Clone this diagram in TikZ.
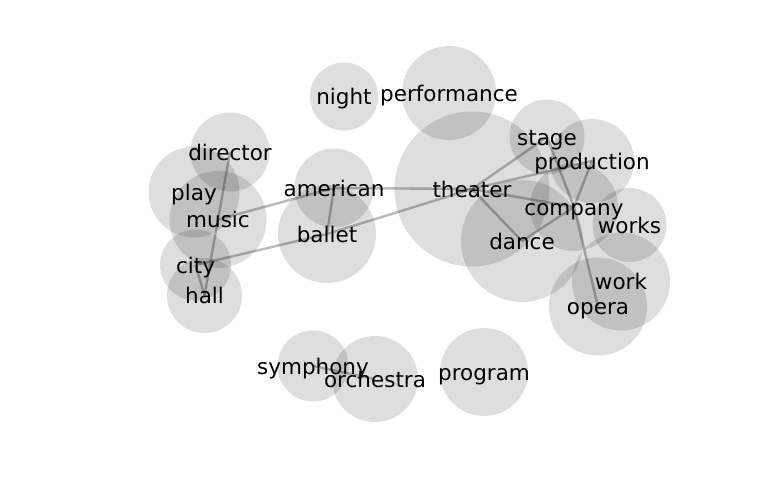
\documentclass[tikz,border=0pt]{standalone}
\usepackage{fontspec}
\setmainfont{DejaVu Sans}
\usetikzlibrary{positioning}

\begin{document}
\begin{tikzpicture}[x=1pt,y=-1pt,
  bubble/.style={circle,fill=black,fill opacity=0.13,inner sep=0pt,minimum size=#1},
  link/.style={black,opacity=0.27,line width=2.4pt},
  word/.style={inner sep=0pt,text height=16.3pt,text depth=0pt,
    font=\fontsize{21.5}{24}\selectfont}]
\useasboundingbox (0,0) rectangle (768,500);
% 원 (단어마다 하나)
\foreach \w/\x/\y/\r in {night/344/96.5/34, performance/449/93/47,
    director/230/152/39.5, play/194/192/45.5, music/218/219.5/48.5,
    city/195.5/265/35.5, hall/204.5/295.5/37.5, american/334/188/39.5,
    ballet/327/234/49, theater/472/189/77.5, dance/522/241/61,
    stage/547/137/37.5, production/592/161/42, company/574/207/44,
    works/629.5/225/37, work/621/281.5/49, opera/598/306.5/49,
    symphony/313/366/35.5, orchestra/375/379/43, program/484/372/44}
  \node[bubble=2*\r] (\w) at (\x,\y) {};
% 연결선
\foreach \a/\b in {director/hall, city/hall, music/american, american/ballet,
    city/ballet, ballet/theater, american/theater, theater/stage,
    theater/production, theater/company, theater/dance, stage/company,
    production/company, dance/company, company/opera, symphony/orchestra}
  \draw[link] (\a.center) -- (\b.center);
% 단어
\foreach \w in {night,performance,director,play,music,city,hall,american,
    ballet,theater,dance,stage,production,company,works,work,opera,
    symphony,orchestra,program}
  \node[word] (\w-txt) at (\w) {\w};
\end{tikzpicture}
\end{document}
